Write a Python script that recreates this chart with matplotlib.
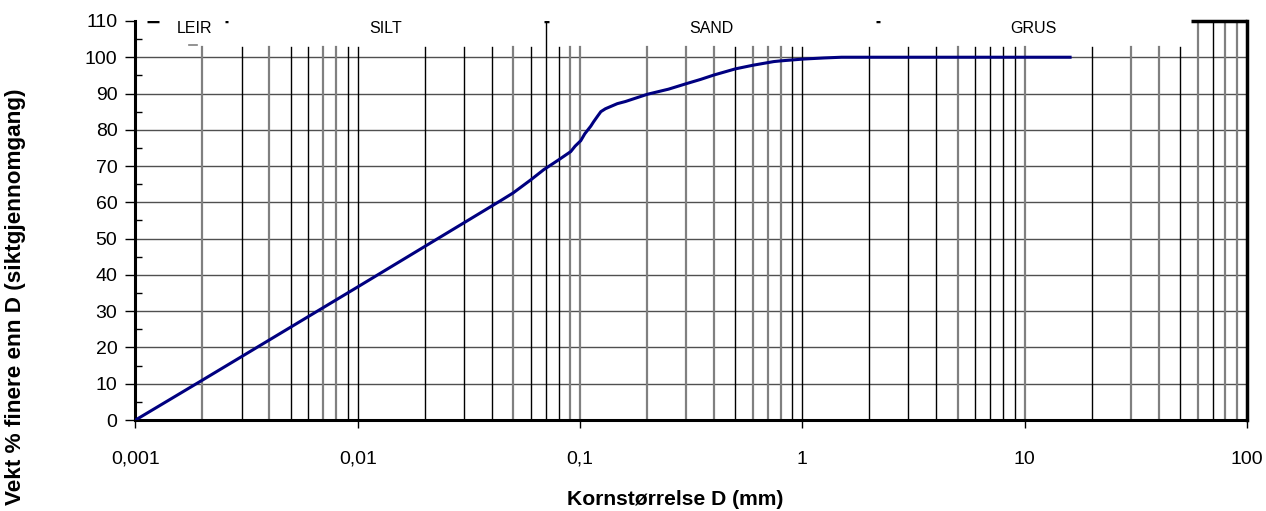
import numpy as np
import matplotlib
matplotlib.use("Agg")
import matplotlib.pyplot as plt
from matplotlib.ticker import FixedLocator, NullLocator

plt.rcParams['font.family'] = ['Liberation Sans', 'DejaVu Sans']

# grain size curve
grain_mm = [0.001, 0.002, 0.01, 0.044, 0.05, 0.06, 0.0686, 0.08, 0.0908, 0.095,
            0.1007, 0.105, 0.1117, 0.115, 0.12, 0.124, 0.13, 0.147, 0.16, 0.201,
            0.25, 0.3, 0.349, 0.4, 0.5, 0.6, 0.743, 0.8, 1.01, 1.25, 1.5, 16.0]
passing_pct = [0, 11, 36.7, 60.5, 62.6, 66.2, 69, 71.7, 74, 75.5,
               77, 78.9, 81, 82.2, 83.8, 85, 85.8, 87.2, 87.8, 89.8,
               91.2, 92.7, 93.9, 95.1, 96.8, 97.8, 98.8, 99.0, 99.5, 99.8, 100, 100]

# vertical grid lines of the sheet
grey_lines = [0.002, 0.004, 0.007, 0.008, 0.05, 0.09, 0.1, 0.2, 0.3, 0.4,
              0.6, 0.7, 0.8, 5, 10, 30, 40, 60, 80, 90]
black_lines = [0.003, 0.005, 0.006, 0.009, 0.01, 0.02, 0.03, 0.04, 0.06,
               0.07, 0.08, 0.5, 0.9, 1, 2, 3, 4, 6, 7, 8, 9, 20, 50, 70]

# soil class band at the top
band_labels = ["LEIR", "SILT", "SAND", "GRUS"]
band_centers = [0.00184, 0.0133, 0.388, 10.96]
band_marks = [(0.00113, 0.00128), (0.00254, 0.0026), (0.0687, 0.0724), (2.14, 2.24)]

xtick_vals = [0.001, 0.01, 0.1, 1, 10, 100]
xtick_text = ["0,001", "0,01", "0,1", "1", "10", "100"]

fig = plt.figure(figsize=(12.66, 5.11), dpi=100)
ax = fig.add_axes([0.107, 0.178, 0.878, 0.781])
ax.set_xscale('log')
ax.set_xlim(0.001, 100)
ax.set_ylim(0, 110)

# horizontal grid
for yv in range(10, 101, 10):
    ax.plot([0.001, 100], [yv, yv], color='#505050', lw=1.0, zorder=1)

# vertical grid
for xv in grey_lines:
    top = 110 if xv >= 60 else 102.8
    ax.plot([xv, xv], [0, top], color='#808080', lw=1.6, zorder=1)
for xv in black_lines:
    top = 110 if (xv >= 60 or xv == 0.07) else 102.8
    ax.plot([xv, xv], [0, top], color='black', lw=1.0, zorder=1.5)

# band marks and box at the right
for x0, x1 in band_marks:
    ax.plot([x0, x1], [110, 110], color='black', lw=2.5, solid_capstyle='butt', zorder=3)
ax.plot([0.00175, 0.0019], [103.3, 103.3], color='#808080', lw=1.2, zorder=3)
ax.plot([56, 100], [110, 110], color='black', lw=2.5, solid_capstyle='butt', zorder=3, clip_on=False)
ax.plot([100, 100], [0, 110], color='black', lw=2.5, zorder=3, clip_on=False)

for lab, xc in zip(band_labels, band_centers):
    ax.text(xc, 108, lab, ha='center', va='center', fontsize=11.5)

# curve
ax.plot(grain_mm, passing_pct, color='#000080', lw=2.2, zorder=4,
        solid_joinstyle='round')

for side in ['top', 'right']:
    ax.spines[side].set_visible(False)
ax.spines['left'].set_linewidth(2.2)
ax.spines['bottom'].set_linewidth(2.2)

ax.xaxis.set_major_locator(FixedLocator(xtick_vals))
ax.xaxis.set_minor_locator(NullLocator())
ax.set_xticklabels(xtick_text)
ax.tick_params(axis='x', which='major', direction='out', length=6, width=1, pad=16, labelsize=14)

ax.set_yticks(np.arange(0, 111, 10))
ax.set_yticks(np.arange(5, 110, 10), minor=True)
ax.tick_params(axis='y', which='major', direction='out', length=7, width=1, pad=6, labelsize=14)
ax.tick_params(axis='y', which='minor', direction='in', length=5, width=1)

fig.text(0.533, 0.022, "Kornstørrelse D (mm)", ha='center', va='center',
         fontsize=15.2, fontweight='bold')
fig.text(0.012, 0.42, "Vekt % finere enn D (siktgjennomgang)", ha='center', va='center',
         rotation=90, fontsize=16.2, fontweight='bold')

fig.savefig("out.png", dpi=100)
